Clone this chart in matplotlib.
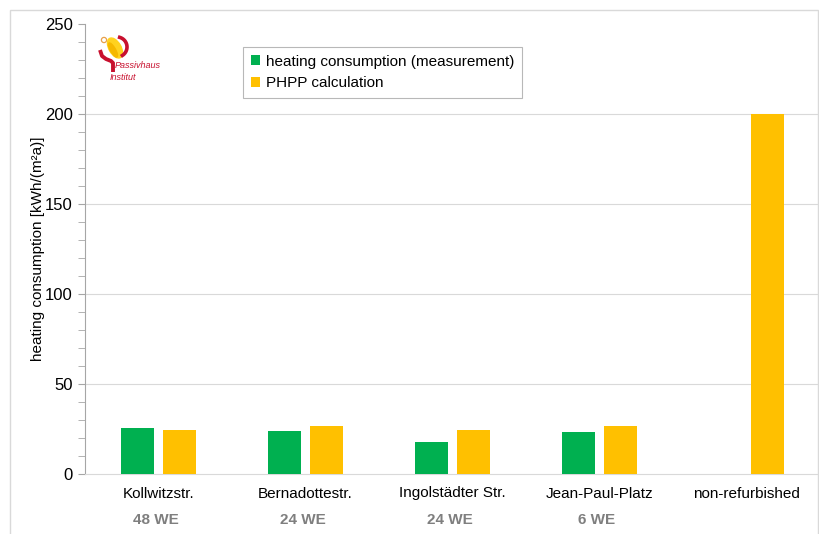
import matplotlib.pyplot as plt
import numpy as np
from matplotlib.patches import Rectangle, Ellipse, Circle
from matplotlib.ticker import MultipleLocator

plt.rcParams["font.family"] = ["Liberation Sans", "DejaVu Sans"]

# Daten
buildings = ["Kollwitzstr.", "Bernadottestr.", "Ingolstädter Str.", "Jean-Paul-Platz", "non-refurbished"]
units = ["48 WE", "24 WE", "24 WE", "6 WE", ""]
measured = [25.5, 23.8, 17.6, 23.2, 0.0]
phpp = [24.6, 26.8, 24.2, 26.8, 200.0]
grid_levels = [50, 100, 150, 200]

green = "#00B050"
yellow = "#FFC000"
axis_gray = "#A6A6A6"
logo_red = "#C8102E"


def draw_logo(fig) -> None:
    # Passivhaus Institut Logo, vereinfacht, in Pixelkoordinaten
    lax = fig.add_axes([95 / 819, 1 - 85 / 534, 80 / 819, 55 / 534])
    lax.set_xlim(95, 175)
    lax.set_ylim(85, 30)
    lax.axis("off")
    lax.add_patch(Ellipse((115, 48), 12, 22, angle=-30, color="#FFD21F", zorder=2))
    lax.add_patch(Ellipse((113, 50), 5, 16, angle=-30, color="#F5B800", zorder=2))
    ang = np.linspace(-1.3, 1.0, 30)
    lax.plot(117 + 10 * np.cos(ang), 47 + 10 * np.sin(ang), color=logo_red, lw=2.6, zorder=3)
    lax.plot([100, 102, 106, 111, 113, 113], [50, 56, 59, 61, 63, 72],
             color=logo_red, lw=2.8, solid_capstyle="butt", zorder=3)
    lax.add_patch(Circle((104, 40), 2.6, fill=False, edgecolor="#E8A04A", lw=0.9))
    lax.text(115, 65, "Passivhaus", fontsize=6.5, style="italic", color=logo_red, va="center")
    lax.text(110, 77, "Institut", fontsize=6.5, style="italic", color=logo_red, va="center")


def main() -> None:
    fig = plt.figure(figsize=(8.19, 5.34), dpi=100)
    # Rahmen um das ganze Diagramm
    fig.patches.append(Rectangle((10 / 819, -0.01), 808 / 819, 1 - 10 / 534 + 0.01,
                                 transform=fig.transFigure, fill=False,
                                 edgecolor="#D9D9D9", linewidth=1.0))

    ax = fig.add_axes([85 / 819, 60 / 534, 735 / 819, 450 / 534])
    x = np.arange(len(buildings))
    w = 0.224
    off = 0.143
    meas_x = [xi - off for xi, v in zip(x, measured) if v > 0]
    meas_v = [v for v in measured if v > 0]
    ax.bar(meas_x, meas_v, width=w, color=green, label="heating consumption (measurement)", zorder=3)
    ax.bar(x + off, phpp, width=w, color=yellow, label="PHPP calculation", zorder=3)

    ax.set_xlim(-0.5, len(buildings) - 0.5)
    ax.set_ylim(0, 250)
    ax.yaxis.set_major_locator(MultipleLocator(50))
    ax.yaxis.set_minor_locator(MultipleLocator(10))
    for g in grid_levels:
        ax.axhline(g, color="#D9D9D9", linewidth=0.8, zorder=0)
    for s in ["top", "right"]:
        ax.spines[s].set_visible(False)
    ax.spines["left"].set_color(axis_gray)
    ax.spines["bottom"].set_color("#D9D9D9")
    ax.tick_params(axis="y", which="both", direction="out", length=5, color=axis_gray,
                   labelsize=12, pad=4)
    ax.tick_params(axis="x", length=0, labelsize=11, pad=9)
    ax.set_xticks(x)
    ax.set_xticklabels(buildings)
    ax.set_ylabel("heating consumption [kWh/(m²a)]", fontsize=11, labelpad=0)

    for xi, u in zip(x, units):
        ax.text(xi - 0.02, -25.5, u, ha="center", va="center", fontsize=11,
                fontweight="bold", color="#7F7F7F", clip_on=False)

    leg = ax.legend(loc="upper left", bbox_to_anchor=(0.205, 0.966), fontsize=11,
                    frameon=True, fancybox=False, handlelength=0.6, handleheight=0.6,
                    handletextpad=0.4, borderpad=0.5, labelspacing=0.5)
    leg.get_frame().set_edgecolor("#A6A6A6")
    leg.get_frame().set_linewidth(0.8)

    draw_logo(fig)

    fig.savefig("out.png", dpi=100)


if __name__ == "__main__":
    main()
